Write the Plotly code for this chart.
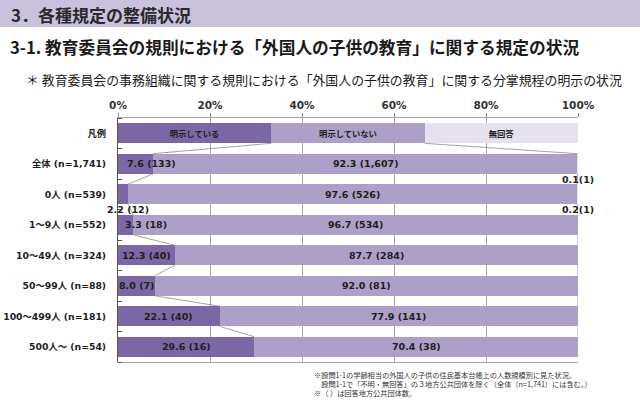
import plotly.graph_objects as go

# ---- data ----
categories = ["全体 (n=1,741)", "0人 (n=539)", "1～9人 (n=552)", "10～49人 (n=324)",
              "50～99人 (n=88)", "100～499人 (n=181)", "500人～ (n=54)"]
pct_yes = [7.6, 2.2, 3.3, 12.3, 8.0, 22.1, 29.6]
pct_no = [92.3, 97.6, 96.7, 87.7, 92.0, 77.9, 70.4]
pct_na = [0.1, 0.2, 0.0, 0.0, 0.0, 0.0, 0.0]
n_yes = [133, 12, 18, 40, 7, 40, 16]
n_no = [1607, 526, 534, 284, 81, 141, 38]
n_na = [1, 1, 0, 0, 0, 0, 0]
series_names = ["明示している", "明示していない", "無回答"]
legend_row_label = "凡例"
x_ticks = [0, 20, 40, 60, 80, 100]

C_DARK = "#7b67a4"
C_MID = "#ac9fc8"
C_LIGHT = "#e6e1ef"
FONT = "Noto Sans CJK JP"
NFONT = "DejaVu Sans, Noto Sans CJK JP"
TXT = "#1e1e1e"

W, H = 640, 413
ML, MR, MT, MB = 118, 62, 118, 51
PW, PH = W - ML - MR, H - MT - MB

def px(x):
    return (x - ML) / PW

def py(y):
    return (H - MB - y) / PH

BW = 0.66
rows = list(range(1, len(categories) + 1))
fig = go.Figure()

# legend pseudo row
third = 100 / 3
for name, col in zip(series_names, [C_DARK, C_MID, C_LIGHT]):
    fig.add_trace(go.Bar(y=[0], x=[third], orientation="h", marker=dict(color=col, line_width=0),
                         width=BW, showlegend=False, hoverinfo="skip",
                         text=["<b>" + name + "</b>"], textposition="inside", insidetextanchor="middle",
                         textfont=dict(family=FONT, size=8.3, color=TXT)))

# data rows
for vals, col in zip([pct_yes, pct_no, pct_na], [C_DARK, C_MID, C_LIGHT]):
    fig.add_trace(go.Bar(y=rows, x=vals, orientation="h", marker=dict(color=col, line_width=0),
                         width=BW, showlegend=False, hoverinfo="skip"))

fig.update_layout(barmode="stack", bargap=0)

# connector lines (cumulative boundaries)
legend_cum = [third, 2 * third]
cum1 = pct_yes
cum2 = [a + b for a, b in zip(pct_yes, pct_no)]
bounds = [[legend_cum[0]] + cum1, [legend_cum[1]] + cum2]
for b in bounds:
    for i in range(len(b) - 1):
        fig.add_trace(go.Scatter(x=[b[i], b[i + 1]], y=[i + BW / 2, i + 1 - BW / 2], mode="lines",
                                 line=dict(color="#8c8c8c", width=0.8), showlegend=False, hoverinfo="skip"))

ann = []
lab_font = dict(family=NFONT, size=9.5, color=TXT)
dark_x_override = {0: 7.2, 2: 6.1}
for i, r in enumerate(rows):
    t = f"<b>{pct_yes[i]:.1f} ({n_yes[i]:,})</b>"
    if pct_yes[i] < 3:
        ann.append(dict(x=pct_yes[i], y=r + 0.5, text=t, showarrow=False, font=lab_font,
                        xanchor="center", yanchor="middle"))
    else:
        ann.append(dict(x=dark_x_override.get(i, pct_yes[i] / 2), y=r, text=t, showarrow=False,
                        font=lab_font, xanchor="center", yanchor="middle"))
    ann.append(dict(x=pct_yes[i] + pct_no[i] / 2, y=r, text=f"<b>{pct_no[i]:.1f} ({n_no[i]:,})</b>",
                    showarrow=False, font=lab_font, xanchor="center", yanchor="middle"))
    if pct_na[i] > 0:
        ann.append(dict(x=100, y=r + 0.5, text=f"<b>{pct_na[i]:.1f}({n_na[i]})</b>", showarrow=False,
                        font=lab_font, xanchor="center", yanchor="middle"))

# titles
ann.append(dict(xref="paper", yref="paper", x=px(9), y=py(14), text="<b>3．各種規定の整備状況</b>",
                showarrow=False, xanchor="left", yanchor="middle",
                font=dict(family=FONT, size=17, color="#2a2a2a")))
ann.append(dict(xref="paper", yref="paper", x=px(8), y=py(47),
                text="<b>3-1. 教育委員会の規則における「外国人の子供の教育」に関する規定の状況</b>",
                showarrow=False, xanchor="left", yanchor="middle",
                font=dict(family=FONT, size=16.7, color="#1a1a1a")))
ann.append(dict(xref="paper", yref="paper", x=px(24), y=py(80),
                text="＊ 教育委員会の事務組織に関する規則における「外国人の子供の教育」に関する分掌規程の明示の状況",
                showarrow=False, xanchor="left", yanchor="middle",
                font=dict(family=FONT, size=12.9, color="#1a1a1a")))
foot = ["※設問1-1の学齢相当の外国人の子供の住民基本台帳上の人数規模別に見た状況。",
        "　設問1-1で「不明・無回答」の３地方公共団体を除く（全体（n=1,741）には含む。）",
        "※（ ）は回答地方公共団体数。"]
for k, f in enumerate(foot):
    ann.append(dict(xref="paper", yref="paper", x=px(312), y=py(375 + 9 * k), text=f,
                    showarrow=False, xanchor="left", yanchor="middle",
                    font=dict(family=FONT, size=7.2, color="#333")))

shapes = [dict(type="rect", xref="paper", yref="paper", x0=px(0), x1=px(W), y0=py(27), y1=py(0),
               fillcolor="#cac2dd", line_width=0, layer="below")]

fig.update_layout(
    width=W, height=H, margin=dict(l=ML, r=MR, t=MT, b=MB, autoexpand=False),
    paper_bgcolor="white", plot_bgcolor="white",
    annotations=ann, shapes=shapes,
    xaxis=dict(side="top", range=[0, 100], tickvals=x_ticks, ticktext=[f"<b>{v}%</b>" for v in x_ticks],
               showgrid=True, gridcolor="#a6a6a6", gridwidth=1, ticks="outside", ticklen=4,
               tickcolor="#888", showline=True, linecolor="#a6a6a6", mirror=True, zeroline=False,
               automargin=False,
               tickfont=dict(family=NFONT, size=10.5, color="#333"), fixedrange=True),
    yaxis=dict(range=[len(categories) + 0.5, -0.5], tickvals=[0] + rows,
               ticktext=["<b>" + legend_row_label + "</b>"] + ["<b>" + c + "</b>" for c in categories],
               showgrid=False, zeroline=False, showline=True, linecolor="#555", ticks="",
               automargin=False,
               ticklabelstandoff=9, tickfont=dict(family=NFONT, size=9.3, color=TXT),
               minor=dict(ticks="inside", tick0=0.5, dtick=1, ticklen=4, tickcolor="#555", showgrid=False),
               fixedrange=True),
)

fig.write_html("out.html", config={"displayModeBar": False},
               post_script="document.body.style.margin='0';document.body.style.padding='0';")
